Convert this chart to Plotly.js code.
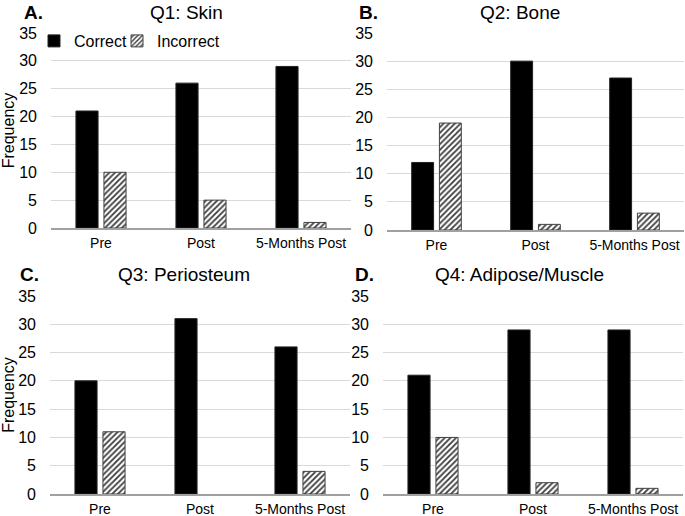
<!DOCTYPE html>
<html>
<head>
<meta charset="utf-8">
<script src="https://cdn.plot.ly/plotly-3.0.1.min.js"></script>
<style>html,body{margin:0;padding:0;background:#fff;}#chart{width:685px;height:516px;}</style>
</head>
<body>
<div id="chart"></div>
<script>
const categories = ["Pre", "Post", "5-Months Post"];
const q1Correct = [21, 26, 29];
const q1Incorrect = [10, 5, 1];
const q2Correct = [12, 30, 27];
const q2Incorrect = [19, 1, 3];
const q3Correct = [20, 31, 26];
const q3Incorrect = [11, 0, 4];
const q4Correct = [21, 29, 29];
const q4Incorrect = [10, 2, 1];
const panelTitles = ["Q1: Skin", "Q2: Bone", "Q3: Periosteum", "Q4: Adipose/Muscle"];
const panelLetters = ["A.", "B.", "C.", "D."];
const seriesNames = ["Correct", "Incorrect"];

const panels = [
  [q1Correct, q1Incorrect],
  [q2Correct, q2Incorrect],
  [q3Correct, q3Incorrect],
  [q4Correct, q4Incorrect]
];

const FONT = "Liberation Sans, Arial, Helvetica, sans-serif";
const traces = [];
panels.forEach((p, i) => {
  const sfx = i === 0 ? "" : String(i + 1);
  traces.push({
    type: "bar", name: seriesNames[0], x: categories, y: p[0],
    xaxis: "x" + sfx, yaxis: "y" + sfx, legendgroup: "c", showlegend: i === 0,
    legendwidth: 38,
    marker: {color: "#000000", line: {color: "#222222", width: p[0].map(v => v > 0 ? 1 : 0)}},
    hoverinfo: "x+y+name"
  });
  traces.push({
    type: "bar", name: seriesNames[1], x: categories, y: p[1],
    xaxis: "x" + sfx, yaxis: "y" + sfx, legendgroup: "i", showlegend: i === 0,
    marker: {color: "#ffffff",
      pattern: {shape: "/", fgcolor: "#3a3a3a", bgcolor: "#ffffff", size: 4, solidity: 0.45},
      line: {color: "#404040", width: p[1].map(v => v > 0 ? 1 : 0)}},
    hoverinfo: "x+y+name"
  });
});

const W = 685, H = 516;
function xd(a, b) { return [a / W, b / W]; }
function yd(bottom, top) { return [1 - bottom / H, 1 - top / H]; }

function xax(dom, anchor) {
  return {domain: dom, anchor: anchor, type: "category", showgrid: false, zeroline: false,
    showline: true, linecolor: "#a0a0a0", linewidth: 1.5, ticks: "",
    tickfont: {family: FONT, size: 14, color: "#000"}, ticklabelstandoff: 2, fixedrange: true};
}
function yax(dom, anchor, title) {
  const ax = {domain: dom, anchor: anchor, range: [0, 35], dtick: 5, tick0: 0,
    showgrid: true, gridcolor: "#d9d9d9", gridwidth: 1, zeroline: false, showline: false,
    ticks: "", tickfont: {family: FONT, size: 16, color: "#000"}, ticklabelstandoff: 13, fixedrange: true};
  if (title) ax.title = {text: title, font: {family: FONT, size: 16, color: "#000"}, standoff: 4};
  return ax;
}

const annotations = [];
const titlePos = [[186, 12], [520, 12], [184, 274], [519, 274]];
const letterPos = [[22, 12], [357, 12], [18, 274], [353, 274]];
panelTitles.forEach((t, i) => {
  annotations.push({text: t, xref: "paper", yref: "paper", x: titlePos[i][0] / W, y: 1 - titlePos[i][1] / H,
    xanchor: "center", yanchor: "middle", showarrow: false, font: {family: FONT, size: 19, color: "#000"}});
  annotations.push({text: "<b>" + panelLetters[i] + "</b>", xref: "paper", yref: "paper",
    x: letterPos[i][0] / W, y: 1 - letterPos[i][1] / H,
    xanchor: "left", yanchor: "middle", showarrow: false, font: {family: FONT, size: 19, color: "#000"}});
});

const layout = {
  width: W, height: H,
  margin: {l: 0, r: 0, t: 0, b: 0},
  paper_bgcolor: "#ffffff", plot_bgcolor: "#ffffff",
  font: {family: FONT, color: "#000"},
  barmode: "group", bargap: 0.44, bargroupgap: 0.21,
  showlegend: true,
  legend: {orientation: "h", x: 34 / W, y: 1 - 41 / H, xanchor: "left", yanchor: "middle",
    bgcolor: "rgba(0,0,0,0)", font: {family: FONT, size: 16, color: "#000"}, traceorder: "normal",
    itemwidth: 30},
  xaxis: xax(xd(51, 351), "y"),
  yaxis: yax(yd(228, 33), "x", "Frequency"),
  xaxis2: xax(xd(387, 684), "y2"),
  yaxis2: yax(yd(230, 33), "x2", null),
  xaxis3: xax(xd(50, 350), "y3"),
  yaxis3: yax(yd(494, 296), "x3", "Frequency"),
  xaxis4: xax(xd(383, 683), "y4"),
  yaxis4: yax(yd(494, 296), "x4", null),
  annotations: annotations
};

Plotly.newPlot("chart", traces, layout, {displayModeBar: false, staticPlot: true});
</script>
</body>
</html>
